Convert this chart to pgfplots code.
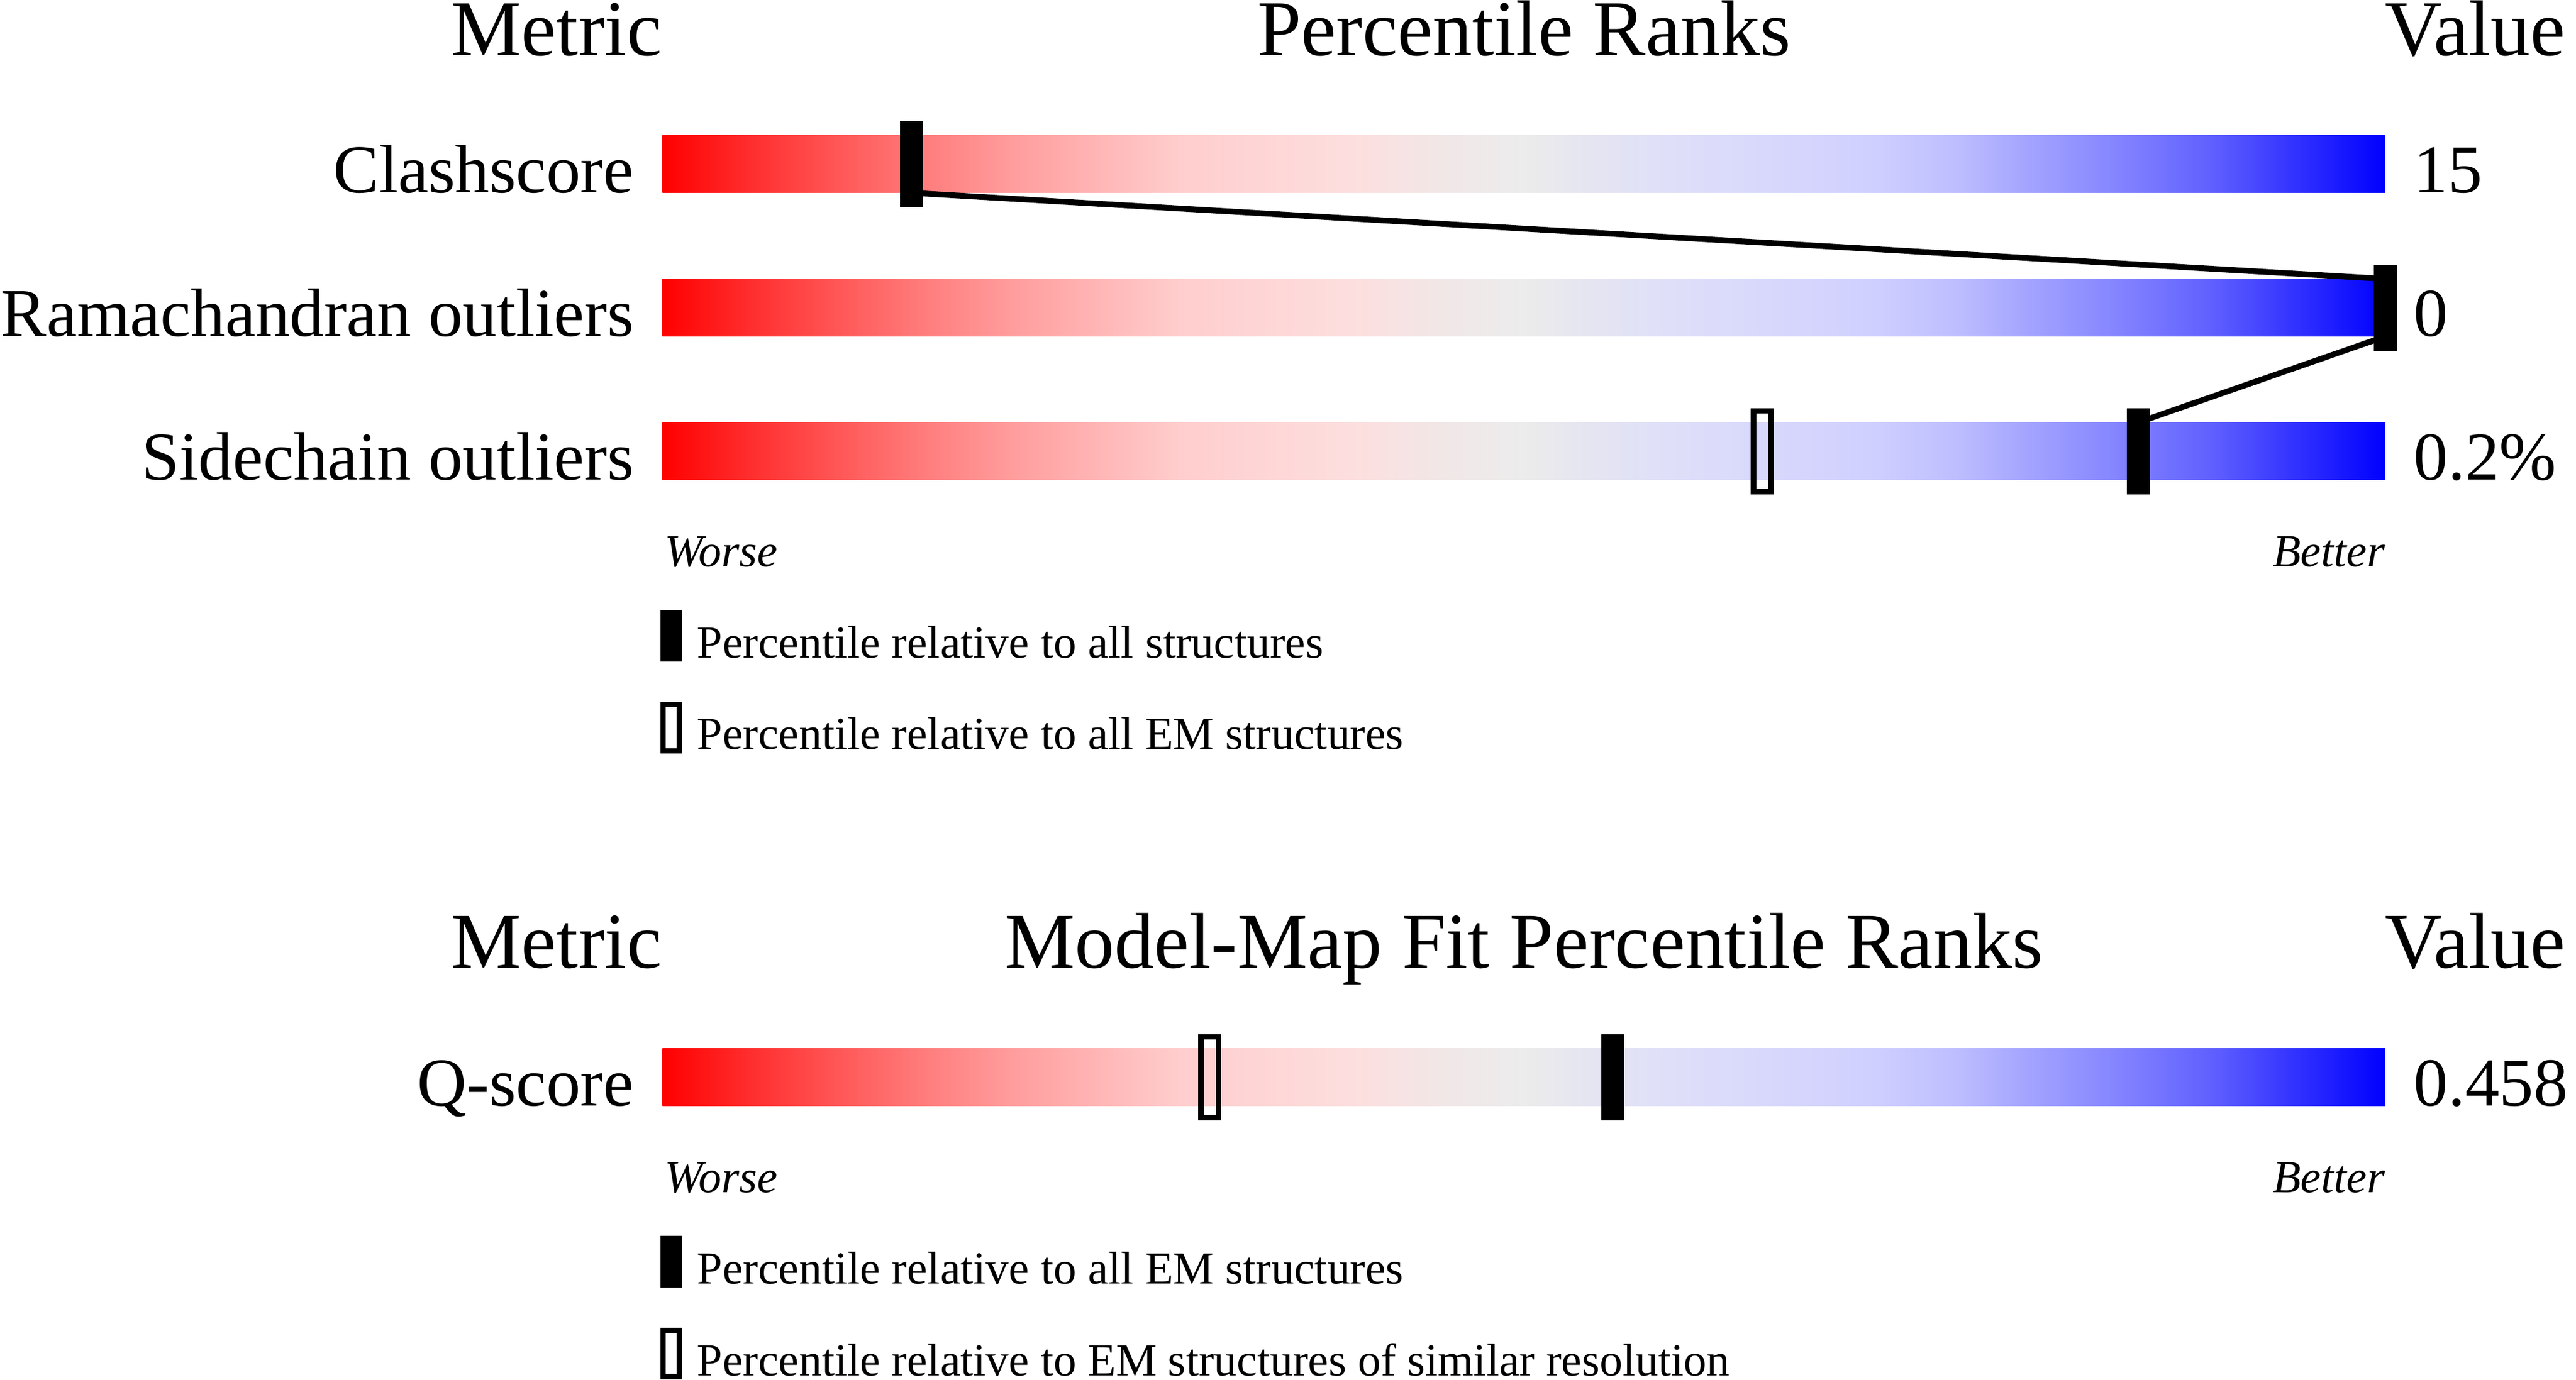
\documentclass[border=0pt]{standalone}
\usepackage{fontspec}
\setmainfont{Liberation Serif}
\usepackage{pgfplots}
\pgfplotsset{compat=1.18}
\usepackage{pgfplotstable}

\newcommand\ttl{\fontsize{24.05}{28}\selectfont}
\newcommand\lab{\fontsize{20.83}{24}\selectfont}
\newcommand\sml{\fontsize{13.95}{16}\selectfont}

% percentile slider gradient (25bp = worst edge, 75bp = best edge)
\pgfdeclarehorizontalshading{slider}{100bp}{%
rgb(0bp)=(1,0,0); rgb(25bp)=(1,0,0);
rgb(27.5bp)=(1,0.176,0.176); rgb(30bp)=(1,0.333,0.333);
rgb(32.5bp)=(1,0.482,0.482); rgb(35bp)=(1,0.608,0.608);
rgb(37.5bp)=(1,0.706,0.706); rgb(40bp)=(1,0.804,0.804);
rgb(45bp)=(0.992,0.871,0.871); rgb(48bp)=(0.941,0.910,0.910);
rgb(50bp)=(0.925,0.925,0.925); rgb(51.5bp)=(0.902,0.902,0.941);
rgb(53.8bp)=(0.878,0.878,0.973); rgb(55bp)=(0.867,0.867,0.980);
rgb(60bp)=(0.816,0.816,1); rgb(62.5bp)=(0.745,0.745,1);
rgb(64.5bp)=(0.647,0.647,1); rgb(67bp)=(0.529,0.529,1);
rgb(70bp)=(0.373,0.373,1); rgb(75bp)=(0,0,1); rgb(100bp)=(0,0,1)}

% slider markers
\pgfdeclareplotmark{fbar}{%
  \pgfpathrectangle{\pgfpoint{-3.5pt}{-13.125pt}}{\pgfpoint{7pt}{26.25pt}}%
  \pgfusepathqfill}
\pgfdeclareplotmark{obar}{%
  \pgfpathrectangle{\pgfpoint{-2.65pt}{-12.275pt}}{\pgfpoint{5.3pt}{24.55pt}}%
  \pgfusepathqstroke}

% percentile ranks (x) at each metric row (y = row centre in layout units)
\pgfplotstableread{
pct  y
14.45 99.9
100   187.3
85.65 274.7
}\allfilled
\pgfplotstableread{
pct  y
63.84 274.7
}\allopen
\pgfplotstableread{
pct  y
14.45 117.4
100   169.8
100   204.8
85.65 257.2
}\link
\pgfplotstableread{
pct  y
55.16 655.8
}\qfilled
\pgfplotstableread{
pct  y
31.77 655.8
}\qopen

\begin{document}
\begin{tikzpicture}
\begin{axis}[
  width=784pt, height=419.9pt, scale only axis,
  xmin=-38.444, xmax=111.064,
  ymin=0, ymax=839.8, y dir=reverse,
  hide axis, clip=false, enlargelimits=false,
]
% gradient bars
\shade[shading=slider] (axis cs:0,82.4)  rectangle (axis cs:100,117.4);
\shade[shading=slider] (axis cs:0,169.8) rectangle (axis cs:100,204.8);
\shade[shading=slider] (axis cs:0,257.2) rectangle (axis cs:100,292.2);
\shade[shading=slider] (axis cs:0,638.3) rectangle (axis cs:100,673.3);

% connecting line
\addplot[black, line width=1.75pt, mark=none] table[x=pct,y=y] {\link};
% markers
\addplot[only marks, mark=fbar, mark options={solid, fill=black, draw=none}] table[x=pct,y=y] {\allfilled};
\addplot[only marks, mark=obar, mark options={solid, draw=black, line width=1.7pt}] table[x=pct,y=y] {\allopen};
\addplot[only marks, mark=fbar, mark options={solid, fill=black, draw=none}] table[x=pct,y=y] {\qfilled};
\addplot[only marks, mark=obar, mark options={solid, draw=black, line width=1.7pt}] table[x=pct,y=y] {\qopen};

% ---- top panel texts
\node[anchor=base east, inner sep=0pt, font=\ttl] at (axis cs:0,33.7) {Metric};
\node[anchor=base, inner sep=0pt, font=\ttl] at (axis cs:50,33.7) {Percentile Ranks};
\node[anchor=base west, inner sep=0pt, font=\ttl] at (axis cs:99.95,33.7) {Value};

\node[anchor=base east, inner sep=0pt, font=\lab] at (axis cs:-1.62,117.4) {Clashscore};
\node[anchor=base east, inner sep=0pt, font=\lab] at (axis cs:-1.62,204.8) {Ramachandran outliers};
\node[anchor=base east, inner sep=0pt, font=\lab] at (axis cs:-1.62,292.2) {Sidechain outliers};

\node[anchor=base west, inner sep=0pt, font=\lab] at (axis cs:101.62,117.4) {15};
\node[anchor=base west, inner sep=0pt, font=\lab] at (axis cs:101.62,204.8) {0};
\node[anchor=base west, inner sep=0pt, font=\lab] at (axis cs:101.62,292.2) {0.2\%};

\node[anchor=base west, inner sep=0pt, font=\sml\itshape] at (axis cs:0.1,344.9) {Worse};
\node[anchor=base east, inner sep=0pt, font=\sml\itshape] at (axis cs:100,344.9) {Better};

\fill[black] (axis cs:-0.114,371.2) rectangle (axis cs:1.125,402.6);
\draw[black, line width=1.6pt] (axis cs:0.038,428.7) rectangle (axis cs:0.972,457.0);
\node[anchor=base west, inner sep=0pt, font=\sml] at (axis cs:1.983,400.5) {Percentile relative to all structures};
\node[anchor=base west, inner sep=0pt, font=\sml] at (axis cs:1.983,456.2) {Percentile relative to all EM structures};

% ---- bottom panel texts
\node[anchor=base east, inner sep=0pt, font=\ttl] at (axis cs:0,589.3) {Metric};
\node[anchor=base, inner sep=0pt, font=\ttl] at (axis cs:50,589.3) {Model-Map Fit Percentile Ranks};
\node[anchor=base west, inner sep=0pt, font=\ttl] at (axis cs:99.95,589.3) {Value};

\node[anchor=base east, inner sep=0pt, font=\lab] at (axis cs:-1.62,673.3) {Q-score};
\node[anchor=base west, inner sep=0pt, font=\lab] at (axis cs:101.62,673.3) {0.458};

\node[anchor=base west, inner sep=0pt, font=\sml\itshape] at (axis cs:0.1,726.0) {Worse};
\node[anchor=base east, inner sep=0pt, font=\sml\itshape] at (axis cs:100,726.0) {Better};

\fill[black] (axis cs:-0.114,752.2) rectangle (axis cs:1.125,783.7);
\draw[black, line width=1.6pt] (axis cs:0.038,809.8) rectangle (axis cs:0.972,838.0);
\node[anchor=base west, inner sep=0pt, font=\sml] at (axis cs:1.983,781.6) {Percentile relative to all EM structures};
\node[anchor=base west, inner sep=0pt, font=\sml] at (axis cs:1.983,837.5) {Percentile relative to EM structures of similar resolution};
\end{axis}
\pgfresetboundingbox
\path[use as bounding box] (current axis.south west) rectangle (current axis.north east);
\end{tikzpicture}
\end{document}
